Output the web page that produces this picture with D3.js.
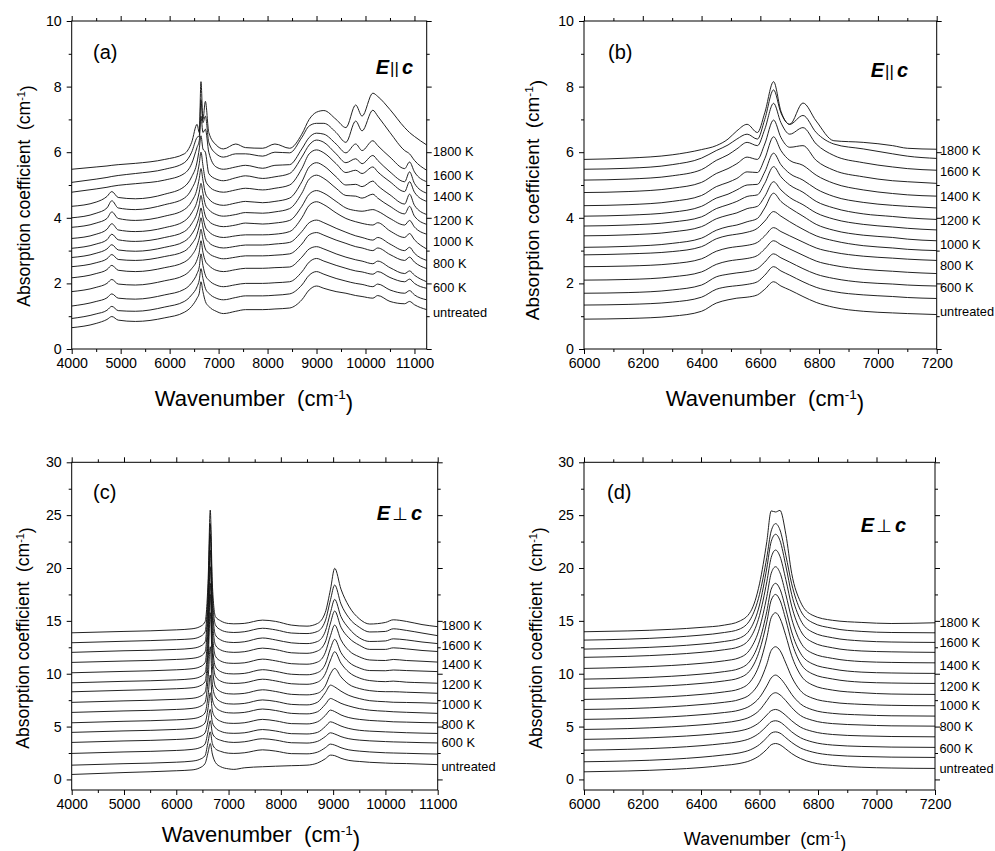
<!DOCTYPE html>
<html><head><meta charset="utf-8">
<script src="https://cdn.jsdelivr.net/npm/d3@7/dist/d3.min.js"></script>
<style>
body{margin:0;background:#fff}
svg{display:block}
text{font-family:"Liberation Sans",Arial,Helvetica,sans-serif;fill:#000}
</style></head><body>
<svg id="chart" width="995" height="851" viewBox="0 0 995 851"></svg>
<script>
// ---------------- DATA ----------------
const temps = ["untreated","500 K","600 K","700 K","800 K","900 K","1000 K","1100 K","1200 K","1300 K","1400 K","1500 K","1600 K","1700 K","1800 K"];
const labelTexts = ["untreated","600 K","800 K","1000 K","1200 K","1400 K","1600 K","1800 K"];
const labelValsA = [1.12,1.88,2.61,3.29,3.93,4.64,5.28,6.02];
const labelValsB = [1.14,1.88,2.54,3.2,3.91,4.64,5.4,6.07];
const labelValsC = [1.19,3.46,5.24,7.13,9.02,10.91,12.71,14.6];
const labelValsD = [1.04,2.93,5.04,6.97,8.83,10.82,12.93,14.86];

const xMajorWide = [4000,5000,6000,7000,8000,9000,10000,11000];
const xMinorWide = [4500,5500,6500,7500,8500,9500,10500];
const xMajorNarrow = [6000,6200,6400,6600,6800,7000,7200];
const xMinorNarrow = [6100,6300,6500,6700,6900,7100];
const yMajor10 = [0,2,4,6,8,10];
const yMinor10 = [1,3,5,7,9];
const yMajor30 = [0,5,10,15,20,25,30];
const yMinor30 = [2.5,7.5,12.5,17.5,22.5,27.5];

// Panel (a): E || c, wide range
const wnA = [4000,4500,4720,4820,4950,5300,5900,6300,6450,6560,6605,6640,6680,6730,6800,6950,7100,7350,7550,7900,8150,8450,8700,8850,9000,9150,9400,9600,9800,9930,10150,10250,10500,10800,10900,11000,11250];
const specA = [
[0.65,0.78,0.9,0.99,0.88,0.84,0.95,1.12,1.3,1.55,1.7,2.05,1.75,1.45,1.3,1.15,1.08,1.15,1.2,1.2,1.22,1.25,1.5,1.8,1.92,1.85,1.75,1.7,1.63,1.6,1.55,1.63,1.45,1.38,1.45,1.35,1.2],
[0.93,1.07,1.18,1.3,1.17,1.15,1.28,1.45,1.65,1.9,2.1,2.45,2.15,1.85,1.7,1.55,1.5,1.57,1.62,1.62,1.64,1.68,1.95,2.25,2.36,2.28,2.15,2.07,2.0,1.97,1.9,1.98,1.8,1.7,1.78,1.65,1.5],
[1.31,1.45,1.56,1.68,1.55,1.52,1.65,1.82,2.02,2.3,2.5,2.9,2.55,2.25,2.1,1.95,1.9,1.96,2.0,2.0,2.02,2.05,2.35,2.65,2.76,2.68,2.55,2.46,2.38,2.35,2.28,2.36,2.18,2.05,2.13,2.0,1.85],
[1.75,1.88,2.0,2.12,1.98,1.95,2.08,2.25,2.45,2.72,2.95,3.3,2.95,2.68,2.55,2.4,2.36,2.42,2.46,2.46,2.48,2.5,2.8,3.05,3.12,3.05,2.9,2.8,2.72,2.68,2.6,2.68,2.48,2.3,2.38,2.25,2.05],
[2.17,2.3,2.42,2.55,2.4,2.36,2.48,2.65,2.85,3.15,3.38,3.65,3.35,3.05,2.92,2.8,2.75,2.8,2.84,2.84,2.86,2.9,3.2,3.48,3.55,3.47,3.32,3.22,3.12,3.08,3.0,3.08,2.88,2.7,2.8,2.65,2.45],
[2.51,2.63,2.75,2.88,2.73,2.7,2.82,2.98,3.2,3.5,3.75,4.0,3.72,3.4,3.25,3.12,3.08,3.13,3.17,3.17,3.2,3.25,3.58,3.85,3.93,3.85,3.68,3.56,3.45,3.4,3.32,3.4,3.2,3.0,3.1,2.92,2.7],
[2.79,2.92,3.05,3.18,3.02,2.98,3.1,3.28,3.5,3.82,4.05,4.3,4.02,3.72,3.58,3.44,3.4,3.45,3.48,3.48,3.5,3.58,4.0,4.38,4.49,4.4,4.15,3.98,3.88,3.83,3.78,3.85,3.6,3.4,3.52,3.33,3.05],
[3.07,3.2,3.33,3.5,3.33,3.28,3.4,3.58,3.82,4.15,4.4,4.68,4.38,4.05,3.9,3.77,3.73,3.78,3.84,3.81,3.84,3.92,4.35,4.72,4.83,4.75,4.5,4.3,4.22,4.2,4.25,4.2,3.98,3.78,3.92,3.72,3.5],
[3.37,3.5,3.65,3.82,3.63,3.58,3.7,3.9,4.15,4.5,4.78,5.05,4.75,4.4,4.25,4.1,4.05,4.1,4.16,4.14,4.18,4.28,4.75,5.18,5.3,5.2,4.9,4.68,4.66,4.6,4.72,4.6,4.35,4.12,4.35,4.05,3.8],
[3.71,3.84,3.98,4.18,3.98,3.92,4.05,4.25,4.5,4.88,5.2,5.5,5.15,4.75,4.58,4.42,4.38,4.45,4.5,4.46,4.5,4.6,5.1,5.55,5.68,5.58,5.25,5.0,5.02,4.95,5.12,4.98,4.7,4.42,4.72,4.38,4.1],
[4.0,4.14,4.3,4.52,4.3,4.25,4.4,4.6,4.88,5.3,5.65,6.0,5.6,5.15,4.97,4.82,4.78,4.85,4.9,4.85,4.9,5.0,5.5,5.95,6.07,5.98,5.65,5.38,5.45,5.35,5.55,5.4,5.1,4.8,5.1,4.78,4.5],
[4.35,4.48,4.65,4.8,4.62,4.58,4.72,4.95,5.25,5.7,6.1,6.5,6.1,6.0,5.35,5.18,5.13,5.22,5.28,5.2,5.25,5.35,5.85,6.22,6.37,6.3,5.95,5.68,5.8,5.65,5.9,5.75,5.4,5.1,5.4,5.05,4.75],
[4.78,4.88,4.93,4.96,4.99,5.04,5.15,5.35,5.65,6.15,6.35,7.1,6.6,6.7,6.0,5.55,5.48,5.55,5.6,5.51,5.6,5.62,6.1,6.45,6.58,6.55,6.25,5.98,6.25,6.05,6.35,6.2,5.85,5.5,5.7,5.4,5.1],
[5.08,5.18,5.23,5.26,5.29,5.35,5.48,5.68,6.0,6.45,6.5,7.6,6.9,7.1,6.3,5.95,5.85,5.95,5.95,5.88,6.0,5.98,6.45,6.8,6.88,6.88,6.6,6.3,6.95,6.65,7.28,7.1,6.6,6.05,5.95,5.75,5.45],
[5.48,5.55,5.58,5.6,5.62,5.66,5.78,5.95,6.3,6.85,6.6,8.15,7.0,7.55,6.6,6.22,6.1,6.25,6.14,6.12,6.25,6.12,6.55,7.0,7.22,7.27,7.0,6.75,7.44,7.1,7.8,7.7,7.3,6.75,6.6,6.48,6.22]
];

// Panel (b): E || c, narrow range
const wnB = [6000,6150,6300,6400,6450,6490,6520,6555,6590,6615,6645,6670,6700,6745,6790,6850,6950,7050,7100,7200];
const specB = [
[0.91,0.93,1.0,1.15,1.4,1.5,1.55,1.58,1.65,1.82,2.05,1.92,1.8,1.6,1.42,1.27,1.15,1.1,1.08,1.05],
[1.34,1.36,1.43,1.58,1.82,1.9,1.93,1.97,2.05,2.25,2.51,2.38,2.25,2.05,1.88,1.75,1.65,1.6,1.57,1.54],
[1.7,1.72,1.8,1.95,2.2,2.28,2.32,2.36,2.45,2.65,2.9,2.78,2.65,2.45,2.28,2.15,2.03,1.98,1.95,1.92],
[2.1,2.12,2.2,2.35,2.58,2.68,2.72,2.76,2.85,3.05,3.3,3.18,3.05,2.86,2.68,2.55,2.43,2.37,2.34,2.3],
[2.51,2.53,2.6,2.75,2.98,3.08,3.12,3.16,3.25,3.45,3.7,3.58,3.45,3.26,3.08,2.95,2.83,2.77,2.74,2.7],
[2.87,2.9,2.97,3.12,3.36,3.46,3.5,3.56,3.68,3.9,4.19,4.05,3.88,3.65,3.45,3.3,3.15,3.08,3.04,3.0],
[3.1,3.13,3.22,3.38,3.62,3.73,3.78,3.88,3.98,4.3,4.75,4.5,4.3,4.05,3.8,3.62,3.47,3.4,3.35,3.3],
[3.45,3.48,3.57,3.73,3.97,4.08,4.15,4.28,4.35,4.65,5.1,4.85,4.62,4.4,4.15,3.96,3.8,3.72,3.68,3.63],
[3.75,3.78,3.87,4.03,4.28,4.4,4.5,4.65,4.7,5.05,5.56,5.25,5.0,4.78,4.5,4.3,4.12,4.04,4.0,3.95],
[4.05,4.08,4.17,4.35,4.6,4.72,4.85,5.0,5.02,5.4,5.97,5.62,5.35,5.15,4.88,4.65,4.47,4.38,4.35,4.3],
[4.37,4.4,4.5,4.68,4.95,5.08,5.2,5.4,5.38,5.8,6.47,6.05,5.75,5.6,5.3,5.05,4.85,4.74,4.7,4.66],
[4.77,4.8,4.9,5.08,5.35,5.5,5.65,5.85,5.78,6.25,6.98,6.45,6.15,6.2,5.75,5.45,5.25,5.13,5.1,5.05],
[5.15,5.18,5.28,5.47,5.75,5.92,6.1,6.3,6.2,6.7,7.49,6.9,6.55,6.75,6.25,5.9,5.68,5.55,5.5,5.45],
[5.48,5.51,5.62,5.82,6.05,6.22,6.4,6.55,6.4,7.0,7.9,7.2,6.85,7.12,6.6,6.25,6.1,5.95,5.88,5.81],
[5.78,5.82,5.92,6.08,6.2,6.4,6.65,6.85,6.6,7.2,8.15,7.25,6.85,7.5,6.95,6.35,6.3,6.2,6.12,6.09]
];

// Panel (c): E perp c, wide range
const wnC = [4000,5000,6000,6300,6450,6550,6610,6650,6690,6750,6850,7000,7100,7300,7650,7900,8200,8500,8700,8850,8950,9030,9150,9300,9500,9700,10000,10150,10400,10700,11000];
const specC = [
[0.47,0.65,0.82,0.9,1.1,1.5,2.6,3.4,2.4,1.6,1.2,1.0,0.95,1.1,1.2,1.25,1.3,1.35,1.55,1.95,2.3,2.25,2.0,1.8,1.7,1.62,1.55,1.52,1.5,1.45,1.4],
[1.35,1.49,1.63,1.73,1.9,2.25,3.6,4.5,3.4,2.9,2.65,2.48,2.46,2.52,2.8,2.68,2.44,2.42,2.58,3.0,3.34,3.25,3.0,2.8,2.68,2.6,2.52,2.5,2.47,2.43,2.4],
[2.46,2.6,2.74,2.84,3.0,3.35,4.6,5.55,4.4,3.95,3.7,3.53,3.5,3.56,3.85,3.72,3.47,3.44,3.6,4.05,4.41,4.3,4.05,3.85,3.72,3.65,3.58,3.55,3.52,3.48,3.45],
[3.5,3.64,3.78,3.88,4.05,4.4,5.6,6.62,5.4,4.88,4.55,4.38,4.36,4.41,4.72,4.58,4.33,4.3,4.45,5.0,5.45,5.32,5.05,4.82,4.65,4.57,4.5,4.47,4.42,4.38,4.35],
[4.45,4.59,4.73,4.83,5.0,5.35,6.8,8.2,6.5,5.85,5.5,5.32,5.3,5.36,5.68,5.54,5.28,5.25,5.45,6.05,6.56,6.42,6.1,5.85,5.68,5.58,5.5,5.45,5.42,5.38,5.35],
[5.36,5.5,5.64,5.74,5.92,6.3,8.0,9.87,7.6,6.85,6.48,6.3,6.28,6.34,6.66,6.52,6.25,6.2,6.4,7.1,7.66,7.5,7.2,6.95,6.7,6.55,6.45,6.4,6.35,6.3,6.25],
[6.34,6.48,6.62,6.72,6.9,7.3,9.6,12.55,9.0,7.8,7.35,7.15,7.13,7.19,7.52,7.38,7.1,7.05,7.3,8.2,8.92,8.75,8.35,7.95,7.65,7.45,7.35,7.3,7.28,7.25,7.2],
[7.29,7.43,7.58,7.67,7.85,8.25,11.2,15.77,10.8,8.75,8.3,8.1,8.08,8.14,8.48,8.32,8.05,8.0,8.15,8.85,10.0,10.5,9.7,9.0,8.6,8.4,8.3,8.3,8.25,8.2,8.15],
[8.29,8.43,8.58,8.67,8.85,9.25,12.5,17.5,12.0,9.75,9.3,9.1,9.08,9.14,9.48,9.32,9.05,9.0,9.2,10.0,11.3,12.08,11.0,10.15,9.6,9.35,9.25,9.3,9.2,9.15,9.1],
[9.14,9.28,9.42,9.52,9.7,10.1,13.4,18.55,12.9,10.65,10.2,10.0,9.98,10.03,10.38,10.22,9.95,9.9,10.1,10.9,12.4,13.25,12.0,11.1,10.55,10.3,10.28,10.35,10.3,10.25,10.2],
[10.09,10.22,10.37,10.47,10.65,11.05,14.6,20.12,14.1,11.65,11.2,11.0,10.98,11.03,11.38,11.22,10.95,10.9,11.1,12.0,13.6,14.6,13.2,12.2,11.6,11.3,11.25,11.35,11.25,11.18,11.1],
[11.07,11.2,11.35,11.45,11.62,12.05,15.9,21.7,15.4,12.7,12.25,12.05,12.02,12.08,12.42,12.28,11.98,11.93,12.15,13.0,14.8,15.93,14.4,13.4,12.7,12.3,12.3,12.45,12.35,12.2,12.1],
[12.02,12.17,12.3,12.4,12.58,13.0,17.0,23.19,16.5,13.65,13.2,12.98,12.95,13.02,13.38,13.2,12.92,12.85,13.05,14.0,15.8,17.03,15.4,14.3,13.4,13.05,13.1,13.3,13.2,13.0,12.85],
[12.93,13.07,13.22,13.3,13.5,13.95,18.0,24.2,17.5,14.6,14.15,13.93,13.9,13.97,14.3,14.15,13.85,13.8,14.0,15.0,17.0,18.39,16.6,15.3,14.4,13.95,14.0,14.25,14.1,13.85,13.6],
[13.87,14.0,14.15,14.25,14.45,14.9,19.0,25.48,18.5,15.4,15.0,14.75,14.72,14.76,15.07,14.95,14.6,14.5,14.75,15.8,18.0,19.97,18.0,16.4,15.2,14.7,14.85,15.1,14.95,14.65,14.45]
];

// Panel (d): E perp c, narrow range
const wnD = [6000,6150,6300,6400,6480,6530,6570,6600,6625,6640,6655,6670,6690,6710,6740,6780,6850,6950,7050,7200];
const specD = [
[0.72,0.8,0.95,1.12,1.33,1.5,1.8,2.25,2.85,3.28,3.4,3.28,2.88,2.45,1.98,1.6,1.32,1.15,1.08,1.04],
[1.67,1.75,1.91,2.1,2.32,2.5,2.82,3.3,3.95,4.38,4.5,4.38,3.95,3.5,2.98,2.6,2.3,2.17,2.11,2.08],
[2.77,2.85,3.01,3.19,3.4,3.58,3.9,4.4,5.05,5.45,5.55,5.43,5.0,4.5,3.95,3.55,3.25,3.12,3.06,3.03],
[3.79,3.87,4.03,4.2,4.4,4.58,4.9,5.4,6.1,6.5,6.62,6.48,6.05,5.55,4.95,4.55,4.25,4.12,4.06,4.03],
[4.73,4.81,4.98,5.16,5.37,5.58,5.95,6.55,7.45,8.0,8.2,8.0,7.45,6.8,6.05,5.6,5.28,5.15,5.07,5.04],
[5.68,5.76,5.93,6.12,6.33,6.55,7.0,7.75,8.85,9.6,9.87,9.6,8.9,8.05,7.15,6.6,6.25,6.1,6.02,5.99],
[6.62,6.7,6.88,7.08,7.3,7.55,8.1,9.2,10.9,12.2,12.55,12.2,11.0,9.7,8.4,7.7,7.3,7.1,7.01,6.97],
[7.57,7.66,7.84,8.04,8.28,8.55,9.3,10.9,13.4,15.3,15.77,15.25,13.6,11.7,9.9,8.95,8.45,8.2,8.08,8.04],
[8.61,8.7,8.88,9.08,9.32,9.6,10.4,12.2,14.9,16.95,17.5,16.95,15.1,13.0,11.0,10.0,9.5,9.2,9.12,9.08],
[9.49,9.58,9.76,9.96,10.2,10.48,11.3,13.1,15.9,18.0,18.55,18.0,16.1,13.95,11.95,10.95,10.45,10.15,10.07,10.03],
[10.5,10.6,10.78,10.98,11.22,11.5,12.4,14.3,17.3,19.5,20.12,19.55,17.5,15.2,13.0,11.95,11.45,11.15,11.07,11.03],
[11.55,11.64,11.82,12.02,12.27,12.55,13.45,15.5,18.7,21.0,21.7,21.1,18.9,16.4,14.1,13.0,12.45,12.15,12.07,12.02],
[12.33,12.42,12.6,12.8,13.05,13.35,14.3,16.5,20.0,22.5,23.19,22.6,20.2,17.5,15.1,13.95,13.4,13.1,13.0,12.96],
[13.18,13.27,13.45,13.65,13.9,14.2,15.2,17.5,21.0,23.5,24.2,23.6,21.2,18.5,16.0,14.85,14.3,14.0,13.9,13.87],
[13.97,14.05,14.2,14.38,14.6,14.95,15.9,18.5,22.5,25.4,25.3,25.45,23.2,19.5,16.8,15.55,15.05,14.85,14.75,14.82]
];

// ---------------- DRAWING ----------------
const svg = d3.select("#chart");
const FONT = '"Liberation Sans",Arial,Helvetica,sans-serif';

function styleAxis(a, fs){
  a.attr("font-family", null).attr("font-size", null);
  a.select(".domain").remove();
  a.selectAll("line").attr("stroke","#000").attr("stroke-width",1);
  a.selectAll("text").style("font-size", fs+"px").attr("fill","#000").style("font-family",FONT);
}

function titleWithSup(g, main, fs, x, y, rotate){
  const t = g.append("text").attr("text-anchor","middle").style("font-size",fs+"px");
  if (rotate) t.attr("transform",`translate(${x},${y}) rotate(-90)`);
  else t.attr("x",x).attr("y",y);
  t.append("tspan").text(main + "\u00a0\u00a0(cm");
  t.append("tspan").attr("dy","-0.5em").style("font-size",(fs*0.62)+"px").text("-1");
  t.append("tspan").attr("dy","0.5em").text(")");
}

function drawPanel(p){
  const g = svg.append("g");
  const x = d3.scaleLinear().domain(p.xDom).range([p.left,p.right]);
  const y = d3.scaleLinear().domain(p.yDom).range([p.bottom,p.top]);
  const clipId = "clip-"+p.id;
  svg.append("defs").append("clipPath").attr("id",clipId).append("rect")
    .attr("x",p.left).attr("y",p.top).attr("width",p.right-p.left).attr("height",p.bottom-p.top);

  const line = d3.line().x((d,i)=>x(p.wn[i])).y(d=>y(d)).curve(d3.curveMonotoneX);
  g.append("g").attr("clip-path",`url(#${clipId})`)
    .selectAll("path").data(p.spec).join("path")
    .attr("d", line).attr("fill","none").attr("stroke","#161616").attr("stroke-width",0.95)
    .attr("stroke-linejoin","round");

  const fs = 14.2;
  // bottom
  styleAxis(g.append("g").attr("transform",`translate(0,${p.bottom})`)
    .call(d3.axisBottom(x).tickValues(p.xMinor).tickSize(3).tickFormat("")), fs);
  styleAxis(g.append("g").attr("transform",`translate(0,${p.bottom})`)
    .call(d3.axisBottom(x).tickValues(p.xMajor).tickSize(5).tickPadding(4).tickFormat(d3.format("d"))), fs);
  // top
  styleAxis(g.append("g").attr("transform",`translate(0,${p.top})`)
    .call(d3.axisTop(x).tickValues(p.xMinor).tickSize(3).tickFormat("")), fs);
  styleAxis(g.append("g").attr("transform",`translate(0,${p.top})`)
    .call(d3.axisTop(x).tickValues(p.xMajor).tickSize(5).tickFormat("")), fs);
  // left
  styleAxis(g.append("g").attr("transform",`translate(${p.left},0)`)
    .call(d3.axisLeft(y).tickValues(p.yMinor).tickSize(3).tickFormat("")), fs);
  styleAxis(g.append("g").attr("transform",`translate(${p.left},0)`)
    .call(d3.axisLeft(y).tickValues(p.yMajor).tickSize(5).tickPadding(5).tickFormat(d3.format("d"))), fs);
  // right
  styleAxis(g.append("g").attr("transform",`translate(${p.right},0)`)
    .call(d3.axisRight(y).tickValues(p.yMinor).tickSize(3).tickFormat("")), fs);
  styleAxis(g.append("g").attr("transform",`translate(${p.right},0)`)
    .call(d3.axisRight(y).tickValues(p.yMajor).tickSize(5).tickFormat("")), fs);

  // frame
  g.append("rect").attr("x",p.left).attr("y",p.top).attr("width",p.right-p.left).attr("height",p.bottom-p.top)
    .attr("fill","none").attr("stroke","#000").attr("stroke-width",1);

  // temperature labels
  g.selectAll("text.temp").data(labelTexts).join("text").attr("class","temp")
    .attr("x",p.tempX).attr("y",(d,i)=>y(p.labelVals[i])).attr("dy","0.36em")
    .style("font-size","12.8px").text(d=>d);

  // panel letter
  g.append("text").attr("x",p.letterX).attr("y",p.letterY).style("font-size","20px").text(p.letter);

  // polarization label
  const pol = g.append("text").attr("x",p.polX).attr("y",p.polY).attr("text-anchor","end").style("font-size","20px");
  pol.append("tspan").style("font-weight","bold").style("font-style","italic").text("E");
  if (p.pol === "par") {
    pol.append("tspan").style("font-weight","normal").style("font-size","17px").attr("dx","1").text("||");
  } else {
    pol.append("tspan").style("font-weight","normal").style("font-family","'DejaVu Sans'").style("font-size","18px").attr("dx","2").text("\u22A5");
  }
  pol.append("tspan").style("font-weight","bold").style("font-style","italic").attr("dx","3").text("c");

  // axis titles
  titleWithSup(g, "Absorption coefficient", p.yTitleSize, p.yTitleX, p.yTitleY, true);
  titleWithSup(g, "Wavenumber", p.xTitleSize, p.xTitleX, p.xTitleY, false);
}

drawPanel({id:"a", wn:wnA, spec:specA, xDom:[4000,11250], yDom:[0,10],
  left:71.7, right:426.7, top:21, bottom:349,
  xMajor:xMajorWide, xMinor:xMinorWide, yMajor:yMajor10, yMinor:yMinor10,
  labelVals:labelValsA, tempX:433, letter:"(a)", letterX:93, letterY:59,
  pol:"par", polX:413, polY:74,
  yTitleSize:17.5, yTitleX:30, yTitleY:196, xTitleSize:22, xTitleX:254, xTitleY:406});

drawPanel({id:"b", wn:wnB, spec:specB, xDom:[6000,7200], yDom:[0,10],
  left:584, right:936.7, top:21, bottom:349,
  xMajor:xMajorNarrow, xMinor:xMinorNarrow, yMajor:yMajor10, yMinor:yMinor10,
  labelVals:labelValsB, tempX:940, letter:"(b)", letterX:608, letterY:59,
  pol:"par", polX:908, polY:77,
  yTitleSize:19, yTitleX:539, yTitleY:200, xTitleSize:22, xTitleX:765, xTitleY:406});

drawPanel({id:"c", wn:wnC, spec:specC, xDom:[4000,11000], yDom:[-1,30],
  left:71.7, right:437.7, top:462.3, bottom:790,
  xMajor:xMajorWide, xMinor:xMinorWide, yMajor:yMajor30, yMinor:yMinor30,
  labelVals:labelValsC, tempX:441.5, letter:"(c)", letterX:93, letterY:499,
  pol:"perp", polX:422, polY:520,
  yTitleSize:17.5, yTitleX:29, yTitleY:638, xTitleSize:22, xTitleX:261, xTitleY:842});

drawPanel({id:"d", wn:wnD, spec:specD, xDom:[6000,7200], yDom:[-1,30],
  left:584, right:935, top:462.3, bottom:790,
  xMajor:xMajorNarrow, xMinor:xMinorNarrow, yMajor:yMajor30, yMinor:yMinor30,
  labelVals:labelValsD, tempX:939.5, letter:"(d)", letterX:607, letterY:499,
  pol:"perp", polX:906, polY:532,
  yTitleSize:17.5, yTitleX:542, yTitleY:638, xTitleSize:18, xTitleX:765, xTitleY:845});
</script>
</body></html>
